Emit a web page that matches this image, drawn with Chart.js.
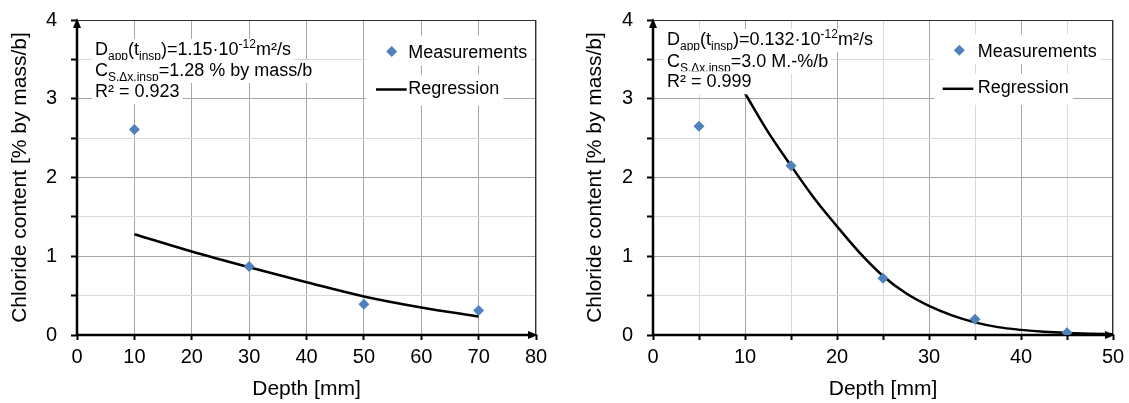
<!DOCTYPE html>
<html><head><meta charset="utf-8">
<script src="https://cdn.jsdelivr.net/npm/chart.js@4.4.0/dist/chart.umd.min.js"></script>
<style>
html,body{margin:0;padding:0;background:#fff;}
#wrap{position:relative;width:1129px;height:403px;overflow:hidden;background:#fff}
canvas{position:absolute;top:0}
</style></head><body>
<div id="wrap">
<canvas id="c1" width="565" height="403" style="left:0"></canvas>
<canvas id="c2" width="564" height="403" style="left:565px"></canvas>
</div>
<script>
const FONT = '"Liberation Sans", Arial, Helvetica, sans-serif';

// ---------- data ----------
const leftMeasDepth = [10, 30, 50, 70];
const leftMeasCl    = [2.61, 0.87, 0.39, 0.31];
const leftRegDepth  = [10, 20, 30, 40, 50, 60, 70];
const leftRegCl     = [1.28, 1.06, 0.86, 0.67, 0.49, 0.35, 0.235];

const rightMeasDepth = [5, 15, 25, 35, 45];
const rightMeasCl    = [2.65, 2.15, 0.72, 0.20, 0.03];
const rightRegDepth  = [10, 12.5, 15, 17.5, 20, 22.5, 25, 27.5, 30, 32.5, 35, 37.5, 40, 42.5, 45, 47.5, 50];
const rightRegCl     = [3.07, 2.58, 2.15, 1.74, 1.38, 1.04, 0.75, 0.53, 0.37, 0.25, 0.16, 0.10, 0.065, 0.04, 0.025, 0.015, 0.01];

const yRange = [0, 4];
const leftXRange = [0, 80];
const rightXRange = [0, 50];
const seriesLabels = ['Measurements', 'Regression'];
const xTitle = 'Depth [mm]';
const yTitle = 'Chloride content [% by mass/b]';

const leftNote = [
  [['D',''],['app','sub'],['(t',''],['insp','sub'],[')=1.15·10',''],['-12','sup'],['m²/s','']],
  [['C',''],['S,Δx,insp','sub'],['=1.28 % by mass/b','']],
  [['R² = 0.923','']]
];
const rightNote = [
  [['D',''],['app','sub'],['(t',''],['insp','sub'],[')=0.132·10',''],['-12','sup'],['m²/s','']],
  [['C',''],['S,Δx,insp','sub'],['=3.0 M.-%/b','']],
  [['R² = 0.999','']]
];

const MARK = '#4F81BD';

function pts(xs, ys){ return xs.map((x,i)=>({x:x, y:ys[i]})); }

// ---------- decoration plugin ----------
function drawNote(ctx, note, x, baselines){
  note.forEach((line, li)=>{
    const base = baselines[li];
    let w = 0;
    const segs = line.map(([t,k])=>{
      const size = k ? 12 : 18;
      ctx.font = size + 'px ' + FONT;
      const sw = ctx.measureText(t).width;
      w += sw;
      return {t, k, size, w: sw};
    });
    ctx.fillStyle = '#fff';
    ctx.fillRect(x - 3, base - 16, w + 6, 23);
    let cx = x;
    ctx.fillStyle = '#000';
    ctx.textBaseline = 'alphabetic';
    ctx.textAlign = 'left';
    segs.forEach(s=>{
      ctx.font = s.size + 'px ' + FONT;
      const dy = s.k === 'sub' ? 5 : (s.k === 'sup' ? -7 : 0);
      ctx.fillText(s.t, cx, base + dy);
      cx += s.w;
    });
  });
}

const deco = {
  id: 'deco',
  beforeDatasetsDraw(chart, args, o){
    const ctx = chart.ctx;
    const {left, right, top, bottom} = chart.chartArea;
    ctx.save();
    ctx.strokeStyle = '#303030';
    ctx.lineWidth = 1;
    ctx.beginPath();
    ctx.moveTo(left, top + 0.5); ctx.lineTo(right, top + 0.5);
    ctx.moveTo(right - 0.5, top); ctx.lineTo(right - 0.5, bottom);
    ctx.stroke();
    ctx.strokeStyle = '#000';
    ctx.fillStyle = '#000';
    ctx.lineWidth = 2.5;
    ctx.beginPath();
    ctx.moveTo(left, bottom + 1); ctx.lineTo(left, top + 6);
    ctx.moveTo(left - 1, bottom); ctx.lineTo(right - 6, bottom);
    ctx.stroke();
    ctx.beginPath();
    ctx.moveTo(left, top - 2); ctx.lineTo(left - 4, top + 8); ctx.lineTo(left + 4, top + 8); ctx.closePath();
    ctx.moveTo(right + 2, bottom); ctx.lineTo(right - 8, bottom - 4); ctx.lineTo(right - 8, bottom + 4); ctx.closePath();
    ctx.fill();
    ctx.restore();
  },
  afterDatasetsDraw(chart, args, o){
    const ctx = chart.ctx;
    ctx.save();
    drawNote(ctx, o.note, o.noteX, o.noteBase);
    const L = o.legend;
    const ds = chart.data.datasets;
    ctx.font = '18px ' + FONT;
    ctx.textBaseline = 'alphabetic';
    ctx.textAlign = 'left';
    const w0 = ctx.measureText(ds[0].label).width;
    const w1 = ctx.measureText(ds[1].label).width;
    ctx.fillStyle = '#fff';
    ctx.fillRect(L.boxLeft, L.y0 - 16, L.textX + w0 + 4 - L.boxLeft, 30);
    ctx.fillRect(L.boxLeft, L.y1 - 15, L.textX + w1 + 4 - L.boxLeft, 31);
    const r = ds[0].pointRadius;
    ctx.fillStyle = ds[0].backgroundColor;
    ctx.beginPath();
    ctx.moveTo(L.markX, L.y0 - r); ctx.lineTo(L.markX + r, L.y0); ctx.lineTo(L.markX, L.y0 + r); ctx.lineTo(L.markX - r, L.y0); ctx.closePath();
    ctx.fill();
    ctx.strokeStyle = ds[1].borderColor;
    ctx.lineWidth = ds[1].borderWidth;
    ctx.beginPath(); ctx.moveTo(L.lineX1, L.y1); ctx.lineTo(L.lineX2, L.y1); ctx.stroke();
    ctx.fillStyle = '#000';
    ctx.fillText(ds[0].label, L.textX, L.y0 + 6.3);
    ctx.fillText(ds[1].label, L.textX, L.y1 + 4.5);
    ctx.restore();
  }
};

function makeChart(id, cfg){
  const gridY = (c)=> Number.isInteger(c.tick.value) ? '#a6a6a6' : '#d9d9d9';
  const gridX = (c)=> (c.tick.value % cfg.xMajor === 0) ? '#a6a6a6' : '#d9d9d9';
  return new Chart(document.getElementById(id), {
    type: 'scatter',
    data: { datasets: [
      { label: seriesLabels[0], data: pts(cfg.mx, cfg.my), showLine: false,
        pointStyle: 'rectRot', pointRadius: 5.5, pointBorderWidth: 0,
        backgroundColor: MARK, borderColor: MARK, order: 0 },
      { label: seriesLabels[1], data: pts(cfg.rx, cfg.ry), showLine: true,
        pointRadius: 0, borderColor: '#000', borderWidth: 2.5, backgroundColor: '#000',
        cubicInterpolationMode: 'monotone', order: 1 }
    ]},
    options: {
      responsive: false, animation: false, devicePixelRatio: 1,
      layout: { padding: { left: 0, top: 20, right: cfg.padRight, bottom: 0 } },
      plugins: { legend: { display: false }, tooltip: { enabled: false }, deco: cfg.deco },
      scales: {
        x: { type: 'linear', min: cfg.xRange[0], max: cfg.xRange[1],
          border: { display: false },
          grid: { color: gridX, lineWidth: 1, drawTicks: true, tickLength: 5, tickColor: '#000', tickWidth: 2 },
          ticks: { stepSize: cfg.xStep, color: '#000', font: { family: FONT, size: 20 }, padding: 5,
            maxRotation: 0, autoSkip: false,
            callback: (v)=> (v % 10 === 0 ? String(v) : '') },
          title: { display: true, text: xTitle, color: '#000', font: { family: FONT, size: 21 }, padding: { top: 0, bottom: 1.4 } },
          afterFit: (s)=>{ s.height = 68; s.paddingLeft = 0; s.paddingRight = 0; }
        },
        y: { type: 'linear', min: yRange[0], max: yRange[1],
          border: { display: false },
          grid: { color: gridY, lineWidth: 1, drawTicks: true, tickLength: 6, tickColor: '#000', tickWidth: 2 },
          ticks: { stepSize: 0.5, color: '#000', font: { family: FONT, size: 20 }, padding: 14,
            autoSkip: false,
            callback: (v)=> (Number.isInteger(v) ? String(v) : '') },
          title: { display: true, text: yTitle, color: '#000', font: { family: FONT, size: 21 }, padding: { top: cfg.yTitlePad, bottom: 0 } },
          afterFit: (s)=>{ s.width = cfg.yWidth; s.paddingTop = 0; s.paddingBottom = 0; }
        }
      }
    },
    plugins: [deco]
  });
}

makeChart('c1', {
  mx: leftMeasDepth, my: leftMeasCl, rx: leftRegDepth, ry: leftRegCl,
  xRange: leftXRange, xStep: 10, xMajor: 10, padRight: 29, yWidth: 77, yTitlePad: 7.4,
  deco: { note: leftNote, noteX: 95, noteBase: [55, 76, 97],
    legend: { boxLeft: 366, markX: 391.7, y0: 51.5, lineX1: 376, lineX2: 406.7, y1: 89.5, textX: 408.3 } }
});
makeChart('c2', {
  mx: rightMeasDepth, my: rightMeasCl, rx: rightRegDepth, ry: rightRegCl,
  xRange: rightXRange, xStep: 5, xMajor: 10, padRight: 16, yWidth: 88, yTitlePad: 17.4,
  deco: { note: rightNote, noteX: 102, noteBase: [45, 66.7, 87.3],
    legend: { boxLeft: 369, markX: 394.3, y0: 50.3, lineX1: 377.7, lineX2: 408.3, y1: 88.8, textX: 412.7 } }
});
</script>
</body></html>
